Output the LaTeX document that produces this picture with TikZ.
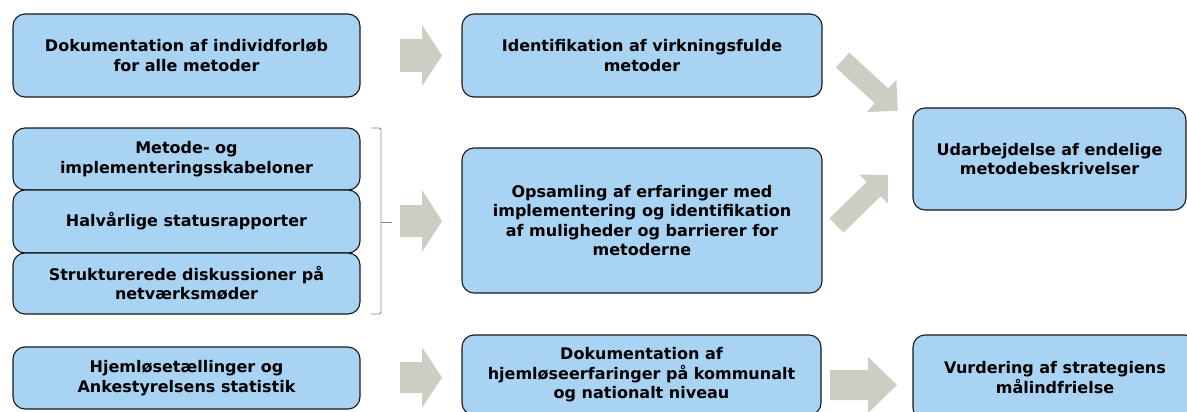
\documentclass[tikz,border=0pt]{standalone}
\usepackage{fontspec}
\setmainfont{DejaVu Sans}
\definecolor{boxblue}{RGB}{168,211,243}
\definecolor{arrgray}{RGB}{206,205,196}
\definecolor{bracegray}{RGB}{140,138,125}
\tikzset{
  box/.style={draw=black!90, line width=1.1pt, fill=boxblue, rounded corners=12pt,
    align=center, font=\bfseries\fontsize{16}{19.5}\selectfont, inner sep=0pt},
  pics/barrow/.style n args={4}{code={
    \fill[arrgray] (0,-#2/2) -- ({#1-#4},-#2/2) -- ({#1-#4},-#3/2) -- (#1,0)
      -- ({#1-#4},#3/2) -- ({#1-#4},#2/2) -- (0,#2/2) -- cycle;}},
  bracestyle/.style={draw=bracegray, line width=0.9pt}
}
\begin{document}
\begin{tikzpicture}[x=1pt,y=-1pt]
\useasboundingbox (0,0) rectangle (1187,412);
\fill[white] (0,0) rectangle (1187,412);
\clip (0,0) rectangle (1187,412);

% top row
\node[box, minimum width=347pt, minimum height=83pt] (b1) at (186.5,55.5)
  {Dokumentation af individforløb\\for alle metoder};
\node[box, minimum width=360pt, minimum height=83pt] (b2) at (642,55.5)
  {Identifikation af virkningsfulde\\metoder};

% stacked boxes
\node[box, minimum width=347pt, minimum height=62pt] (s1) at (186.5,159)
  {Metode- og\\implementeringsskabeloner};
\node[box, minimum width=347pt, minimum height=63pt] (s2) at (186.5,221.5)
  {Halvårlige statusrapporter};
\node[box, minimum width=347pt, minimum height=61pt] (s3) at (186.5,283.5)
  {Strukturerede diskussioner på\\netværksmøder};

\node[box, minimum width=360pt, minimum height=145pt] (b3) at (642,220.5)
  {Opsamling af erfaringer med\\implementering og identifikation\\af muligheder og barrierer for\\metoderne};

\node[box, minimum width=273pt, minimum height=102pt] (b4) at (1049.5,159)
  {Udarbejdelse af endelige\\metodebeskrivelser};

% bottom row
\node[box, minimum width=347pt, minimum height=62pt] (b5) at (186.5,378)
  {Hjemløsetællinger og\\Ankestyrelsens statistik};
\node[box, minimum width=359pt, minimum height=80pt] (b6) at (641.5,375)
  {Dokumentation af\\hjemløseerfaringer på kommunalt\\og nationalt niveau};
\node[box, minimum width=284pt, minimum height=85pt] (b7) at (1055,377.5)
  {Vurdering af strategiens\\målindfrielse};

% brace
\coordinate (brt) at (371,128);
\coordinate (brb) at (371,314);
\coordinate (brm) at (392,222);
\draw[bracestyle, rounded corners=2pt] (brt) -- (381,128) -- (381,314) -- (brb);
\draw[bracestyle] (381,222) -- (brm);

% block arrows
\pic at (400,55.5) {barrow={42}{33}{61}{20}};
\pic at (400,221) {barrow={42}{32}{62}{20}};
\pic at (400,377.5) {barrow={42}{31}{60}{20}};
\pic at (830,385) {barrow={67}{30}{56}{29}};
\pic[rotate=-42.6] at (842.5,60) {barrow={75}{20}{44}{22}};
\pic[rotate=44.4] at (836.5,225.5) {barrow={72}{20}{41}{20}};
\end{tikzpicture}
\end{document}
